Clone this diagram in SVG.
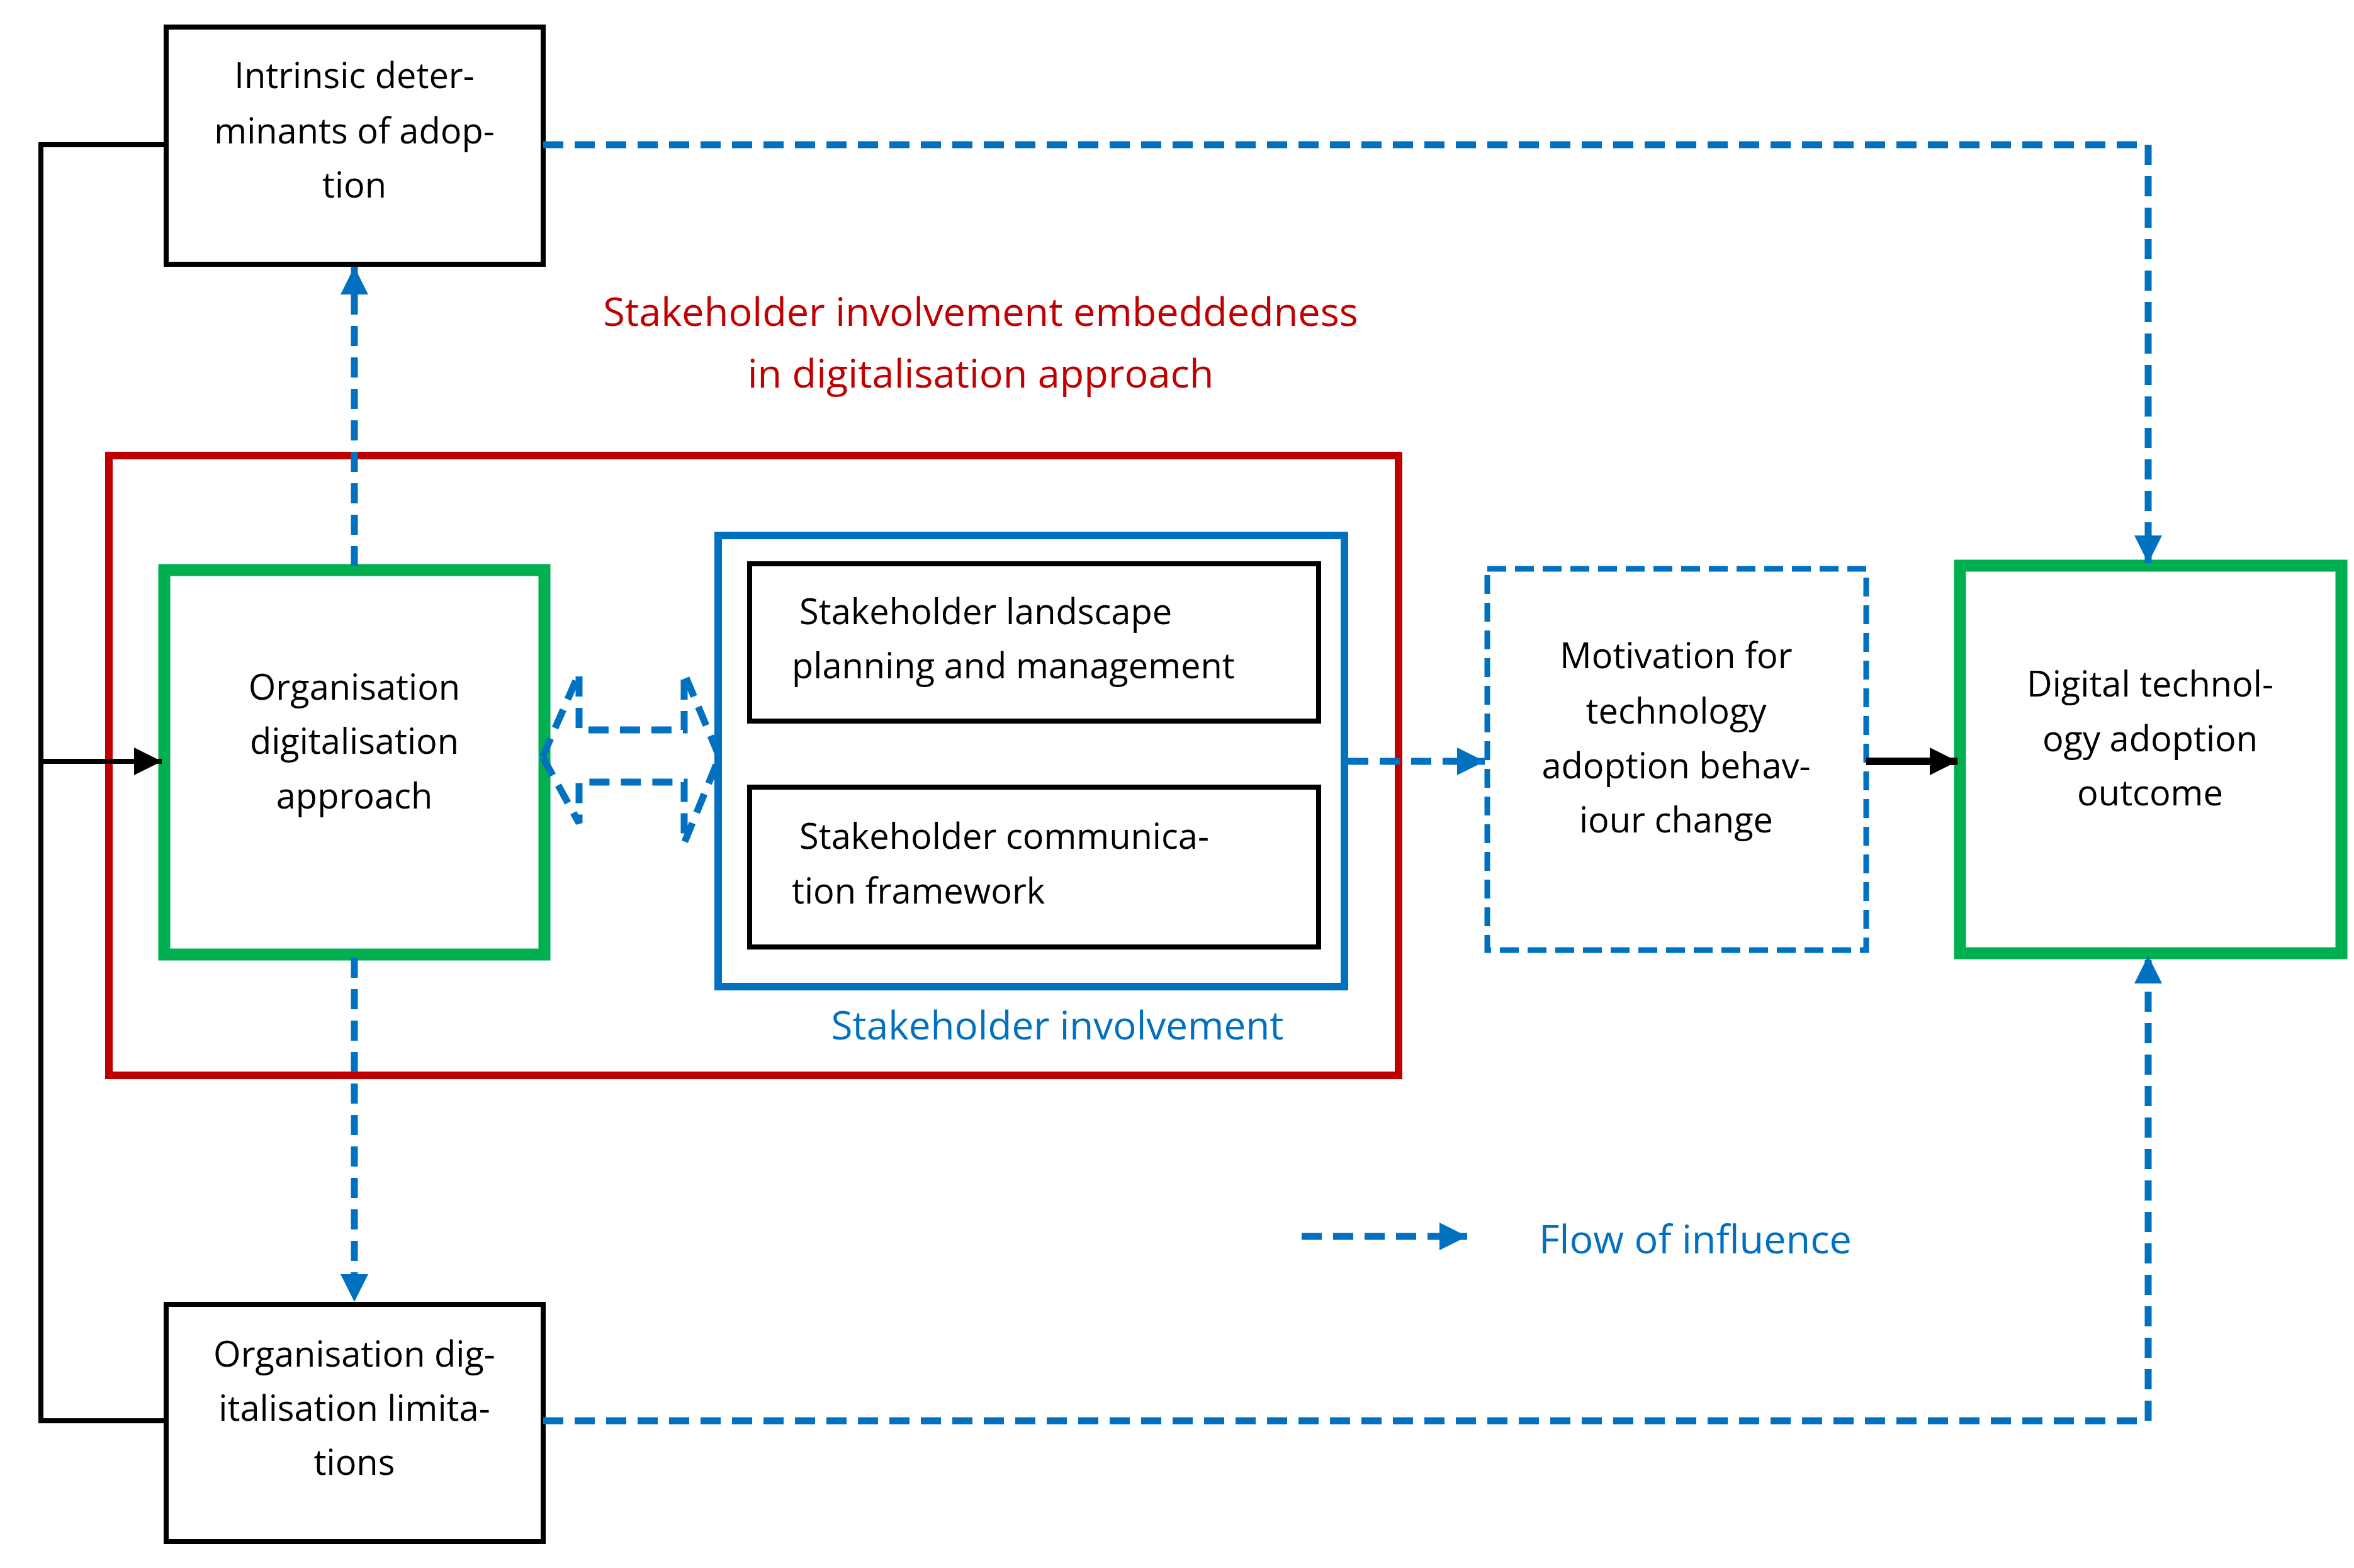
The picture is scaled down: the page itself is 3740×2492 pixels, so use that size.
<svg xmlns="http://www.w3.org/2000/svg" width="3740" height="2492" viewBox="0 0 3740 2492">
<style>
text{font-family:"Open Sans","Noto Sans",sans-serif;font-size:56px;fill:#000}
.c{text-anchor:middle}
.blk{fill:#fff;stroke:#000;stroke-width:8}
.grn{fill:#fff;stroke:#00b050;stroke-width:19}
.dash{fill:none;stroke:#0070c0;stroke-width:11;stroke-dasharray:32 18}
</style>
<defs>
<marker id="ab" markerUnits="userSpaceOnUse" markerWidth="50" markerHeight="50" refX="44" refY="22" orient="auto"><path d="M0,0 L44,22 L0,44 Z" fill="#0070c0"/></marker>
<marker id="ak" markerUnits="userSpaceOnUse" markerWidth="50" markerHeight="50" refX="44" refY="22" orient="auto"><path d="M0,0 L44,22 L0,44 Z" fill="#000"/></marker>
</defs>
<rect width="3740" height="2492" fill="#fff"/>
<g id="embed">
<rect x="173" y="724" width="2049" height="985" fill="none" stroke="#c00000" stroke-width="12"/>
<text class="c" x="1558" y="518" style="fill:#c00000;font-size:63px">Stakeholder involvement embeddedness</text>
<text class="c" x="1558" y="616" style="fill:#c00000;font-size:63px">in digitalisation approach</text>
</g>
<g id="involvement">
<rect x="1141" y="851" width="995" height="717" fill="none" stroke="#0070c0" stroke-width="12"/>
<text class="c" x="1680" y="1652" style="fill:#0070c0;font-size:62px">Stakeholder involvement</text>
</g>
<g id="intrinsic"><rect class="blk" x="264" y="43" width="599" height="377"/>
<text class="c" x="563" y="140">Intrinsic deter-</text><text class="c" x="563" y="228">minants of adop-</text><text class="c" x="563" y="314">tion</text></g>
<g id="limitations"><rect class="blk" x="264" y="2073" width="599" height="377"/>
<text class="c" x="563" y="2172">Organisation dig-</text><text class="c" x="563" y="2258">italisation limita-</text><text class="c" x="563" y="2344">tions</text></g>
<g id="approach"><rect class="grn" x="261" y="906" width="604" height="611"/>
<text class="c" x="563" y="1112">Organisation</text><text class="c" x="563" y="1198">digitalisation</text><text class="c" x="563" y="1285">approach</text></g>
<g id="landscape"><rect class="blk" x="1191" y="896" width="904" height="250"/>
<text x="1270" y="992">Stakeholder landscape</text><text x="1258" y="1078">planning and management</text></g>
<g id="communication"><rect class="blk" x="1191" y="1251" width="904" height="254"/>
<text x="1270" y="1349">Stakeholder communica-</text><text x="1258" y="1436">tion framework</text></g>
<g id="motivation"><rect x="2363" y="904" width="602" height="606" fill="#fff" stroke="#0070c0" stroke-width="9" stroke-dasharray="30 14"/>
<text class="c" x="2663" y="1062">Motivation for</text><text class="c" x="2663" y="1150">technology</text><text class="c" x="2663" y="1237">adoption behav-</text><text class="c" x="2663" y="1323">iour change</text></g>
<g id="outcome"><rect class="grn" x="3114" y="899" width="606" height="616"/>
<text class="c" x="3416" y="1107">Digital technol-</text><text class="c" x="3416" y="1194">ogy adoption</text><text class="c" x="3416" y="1280">outcome</text></g>
<g id="connectors">
<path d="M264,230 H65 V2258 H264" fill="none" stroke="#000" stroke-width="8"/>
<path d="M65,1210 H257" fill="none" stroke="#000" stroke-width="8" marker-end="url(#ak)"/>
<path d="M2965,1210 H3110" fill="none" stroke="#000" stroke-width="12" marker-end="url(#ak)"/>
<path class="dash" d="M863,230 H3413 V895" marker-end="url(#ab)"/>
<path class="dash" d="M863,2258 H3413 V1519" marker-end="url(#ab)"/>
<path class="dash" d="M563,900 V424" marker-end="url(#ab)"/>
<path class="dash" d="M563,1522 V2069" marker-end="url(#ab)"/>
<path class="dash" d="M2142,1210 H2359" marker-end="url(#ab)"/>
<polygon class="dash" points="862,1203 920,1070 920,1160 1087,1160 1087,1070 1143,1203 1087,1340 1087,1243 920,1243 920,1308" stroke-width="12" stroke-dasharray="26 14"/>
</g>
<g id="legend">
<path class="dash" d="M2068,1965 H2331" marker-end="url(#ab)" stroke-dasharray="22 8"/>
<text x="2445" y="1992" style="fill:#0070c0;font-size:63px">Flow of influence</text>
</g>
</svg>
